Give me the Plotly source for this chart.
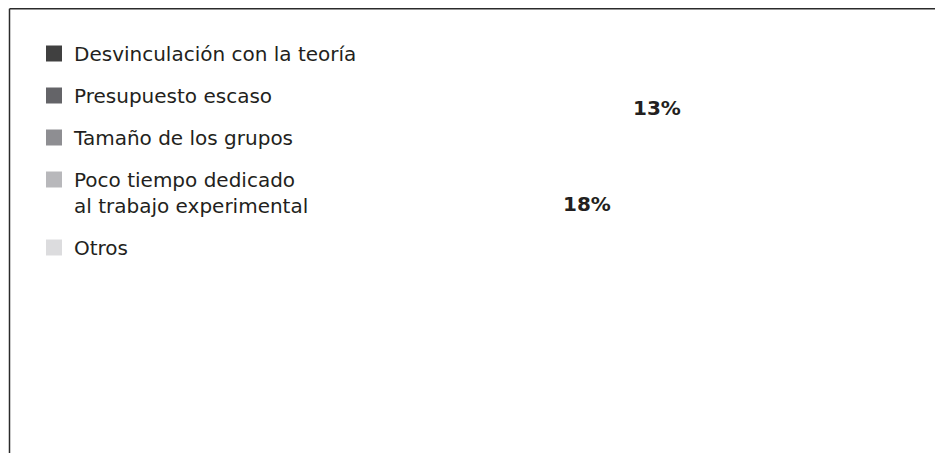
import plotly.graph_objects as go

categories = [
    "Desvinculación con la teoría",
    "Presupuesto escaso",
    "Tamaño de los grupos",
    "Poco tiempo dedicado<br>al trabajo experimental",
    "Otros",
]
colors = ["#404040", "#646468", "#8e8e92", "#b8b8bb", "#dcdcde"]
shown_percents = [13, 18]

FONT = "DejaVu Sans"
TEXT_COLOR = "#231f20"
# page has an 8px body margin; figure sized to fit 943x453 window
W, H = 935, 445

fig = go.Figure()
for i, (cat, col) in enumerate(zip(categories, colors)):
    fig.add_trace(go.Scatter(
        x=[None], y=[None], mode="markers", name=cat,
        legendgroup=f"g{i}",
        marker=dict(symbol="square", size=16, color=col, line=dict(width=0)),
        hoverinfo="skip",
    ))

label_pos = [(649, 100), (579, 196)]
for pct, (px, py) in zip(shown_percents, label_pos):
    fig.add_annotation(
        x=px / W, y=1 - py / H, xref="paper", yref="paper",
        text=f"<b>{pct}%</b>", showarrow=False,
        font=dict(family=FONT, size=20, color=TEXT_COLOR),
        xanchor="center", yanchor="middle",
    )

# frame lines (top and left)
fig.add_shape(type="line", xref="paper", yref="paper",
              x0=1.5 / W, x1=1, y0=1 - 0.75 / H, y1=1 - 0.75 / H,
              line=dict(color="#2b2b2b", width=1.5))
fig.add_shape(type="line", xref="paper", yref="paper",
              x0=1.5 / W, x1=1.5 / W, y0=0, y1=1 - 0.75 / H,
              line=dict(color="#2b2b2b", width=1.5))

fig.update_layout(
    width=W, height=H,
    margin=dict(l=0, r=0, t=0, b=0),
    paper_bgcolor="white", plot_bgcolor="white",
    xaxis=dict(visible=False), yaxis=dict(visible=False),
    showlegend=True,
    legend=dict(
        x=26 / W, y=1 - 26 / H, xanchor="left", yanchor="top",
        font=dict(family=FONT, size=20, color=TEXT_COLOR),
        bgcolor="rgba(0,0,0,0)", borderwidth=0,
        tracegroupgap=13, valign="top",
    ),
)

fig.write_html("out.html")
